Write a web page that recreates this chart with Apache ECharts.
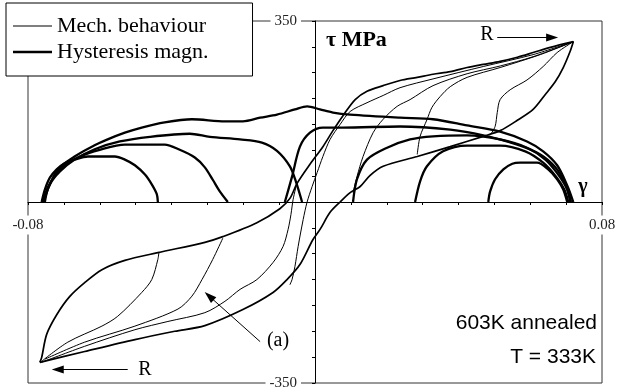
<!DOCTYPE html>
<html><head><meta charset="utf-8">
<script src="https://cdn.jsdelivr.net/npm/echarts@6/dist/echarts.min.js"></script>
<style>html,body{margin:0;padding:0;background:#fff}#c{width:618px;height:389px}</style>
</head><body><div id="c"></div>
<script>
// ---- axis settings ----
const xRange = [-0.08, 0.08];
const yRange = [-350, 350];
const xLabels = [-0.08, 0.08];
const yLabels = [-350, 350];

// ---- Mech. behaviour (thin) : major loop branches ----
const mechUpper = [[0.0720,310],[0.0656,299],[0.0608,289],[0.0564,280],[0.0516,272],[0.0469,266],[0.0424,260],[0.0377,252],[0.0329,247],[0.0285,241],[0.0237,235],[0.0190,225],[0.0145,214],[0.0112,198],[0.0078,167],[0.0050,138],[0.0022,107],[-0.0014,73],[-0.0050,36],[-0.0070,7],[-0.0098,-13],[-0.0162,-40],[-0.0257,-67],[-0.0307,-78],[-0.0438,-98],[-0.0530,-113],[-0.0594,-131],[-0.0642,-156],[-0.0684,-183],[-0.0720,-218],[-0.0748,-256],[-0.0762,-301],[-0.0767,-310]];
const mechLower = [[-0.0767,-310],[-0.0642,-289],[-0.0502,-266],[-0.0391,-250],[-0.0307,-239],[-0.0201,-208],[-0.0117,-175],[-0.0078,-150],[-0.0042,-121],[-0.0006,-73],[0.0014,-53],[0.0042,-20],[0.0070,0],[0.0098,18],[0.0126,30],[0.0153,51],[0.0190,69],[0.0285,88],[0.0377,107],[0.0469,127],[0.0516,138],[0.0564,158],[0.0608,179],[0.0642,208],[0.0670,233],[0.0692,260],[0.0711,291],[0.0720,310]];
// minor loops from the upper reversal point R
const mechMinorR1 = [[0.0720,310],[0.0675,289],[0.0636,262],[0.0591,236],[0.0544,217],[0.0516,198],[0.0508,173],[0.0502,146],[0.0488,129]];
const mechMinorR2 = [[0.0720,310],[0.0628,285],[0.0516,260],[0.0424,241],[0.0377,223],[0.0349,204],[0.0326,183],[0.0312,159],[0.0293,127],[0.0285,92]];
const mechMinorR3 = [[0.0720,310],[0.0608,281],[0.0516,263],[0.0424,248],[0.0329,225],[0.0265,198],[0.0229,185],[0.0190,160],[0.0162,134],[0.0134,88],[0.0117,49],[0.0106,18]];
const mechMinorR4 = [[0.0720,310],[0.0608,285],[0.0469,262],[0.0329,238],[0.0237,221],[0.0190,206],[0.0145,192],[0.0098,175],[0.0070,150],[0.0042,121],[0.0022,88],[0.0006,57],[-0.0008,30],[-0.0022,0],[-0.0033,-34],[-0.0047,-86],[-0.0056,-125],[-0.0064,-150],[-0.0070,-160]];
// minor loops from the lower reversal point R
const mechMinorL1 = [[-0.0762,-308],[-0.0689,-271],[-0.0594,-240],[-0.0550,-221],[-0.0483,-175],[-0.0455,-150],[-0.0438,-111],[-0.0435,-97]];
const mechMinorL2 = [[-0.0753,-304],[-0.0642,-271],[-0.0502,-240],[-0.0382,-207],[-0.0343,-182],[-0.0315,-150],[-0.0285,-111],[-0.0257,-70]];
const mechMinorL3 = [[-0.0762,-310],[-0.0642,-279],[-0.0502,-247],[-0.0410,-231],[-0.0307,-214],[-0.0251,-192],[-0.0209,-169],[-0.0162,-150],[-0.0117,-117],[-0.0089,-86],[-0.0075,-53],[-0.0067,-24],[-0.0061,5],[-0.0050,38]];

// ---- Hysteresis magn. (thick) ----
const magnA = [[-0.0762,0],[-0.0753,24],[-0.0739,47],[-0.0720,63],[-0.0698,75],[-0.0670,82],[-0.0633,88],[-0.0558,88],[-0.0530,82],[-0.0502,71],[-0.0474,53],[-0.0455,34],[-0.0441,15],[-0.0438,0]];
const magnB = [[-0.0759,0],[-0.0745,28],[-0.0725,51],[-0.0698,71],[-0.0656,88],[-0.0600,101],[-0.0530,111],[-0.0419,111],[-0.0377,101],[-0.0335,86],[-0.0307,67],[-0.0285,43],[-0.0265,20],[-0.0243,0]];
const magnC = [[-0.0756,0],[-0.0739,34],[-0.0711,59],[-0.0670,82],[-0.0614,102],[-0.0544,117],[-0.0460,126],[-0.0349,132],[-0.0293,126],[-0.0209,121],[-0.0148,115],[-0.0106,99],[-0.0070,69],[-0.0053,39],[-0.0036,0]];
const magnD = [[-0.0753,0],[-0.0745,24],[-0.0717,63],[-0.0670,88],[-0.0622,107],[-0.0578,121],[-0.0530,134],[-0.0483,144],[-0.0419,154],[-0.0343,160],[-0.0251,156],[-0.0201,156],[-0.0153,163],[-0.0106,169],[-0.0056,179],[-0.0022,185],[0.0014,179],[0.0050,173],[0.0098,169],[0.0237,163],[0.0329,160],[0.0424,148],[0.0516,136],[0.0591,117],[0.0636,98],[0.0675,71],[0.0703,32],[0.0720,0]];
const magnG = [[-0.0084,0],[-0.0064,49],[-0.0042,107],[-0.0014,134],[0.0022,144],[0.0078,144],[0.0237,146],[0.0377,140],[0.0469,129],[0.0564,111],[0.0628,92],[0.0670,67],[0.0698,34],[0.0714,0]];
const magnH = [[0.0106,0],[0.0117,44],[0.0145,82],[0.0201,105],[0.0265,121],[0.0329,127],[0.0424,129],[0.0516,121],[0.0591,105],[0.0642,82],[0.0678,53],[0.0703,24],[0.0711,0]];
const magnF = [[0.0279,0],[0.0293,40],[0.0312,69],[0.0357,98],[0.0424,109],[0.0516,109],[0.0586,98],[0.0636,76],[0.0672,49],[0.0695,24],[0.0706,0]];
const magnE = [[0.0483,0],[0.0488,20],[0.0502,44],[0.0525,63],[0.0550,74],[0.0572,76],[0.0619,76],[0.0650,63],[0.0675,44],[0.0692,24],[0.0703,0]];

// ---- annotation arrows (data coordinates: start, end) ----
const arrowRtop = [[0.0508,318],[0.0661,318]];
const arrowRbottom = [[-0.0522,-324],[-0.0717,-324]];
const arrowA = [[-0.0153,-270],[-0.0295,-182]];

const chart = echarts.init(document.getElementById('c'), null, {renderer: 'canvas'});

function thin(data, w) {
  return {type:'line', name:'Mech. behaviour', data:data, symbol:'none', showSymbol:false,
    smooth:0.3, silent:true, color:'#000', itemStyle:{color:'#000'},
    lineStyle:{color:'#000', width:w || 1}, z:3};
}
function thick(data) {
  return {type:'line', name:'Hysteresis magn.', data:data, symbol:'none', showSymbol:false,
    smooth:0.3, silent:true, color:'#000', itemStyle:{color:'#000'},
    lineStyle:{color:'#000', width:2.3}, z:3};
}

const first = thin(mechMinorR1, 1);
first.markLine = {
  silent:true, animation:false, symbol:['none','triangle'], symbolSize:[8,12],
  label:{show:false}, lineStyle:{color:'#000', width:1, type:'solid'},
  emphasis:{disabled:true},
  data:[arrowRtop, arrowRbottom, arrowA].map(a => [{coord:a[0]},{coord:a[1]}])
};

const series = [
  first,
  thin(mechMinorR2, 1), thin(mechMinorR3, 1), thin(mechMinorR4, 1),
  thin(mechMinorL1, 1), thin(mechMinorL2, 1), thin(mechMinorL3, 1),
  thin(mechUpper, 1.7), thin(mechLower, 1.7),
  thick(magnA), thick(magnB), thick(magnC), thick(magnD),
  thick(magnG), thick(magnH), thick(magnF), thick(magnE)
];

const txt = (text, x, y, font, align, extra) => ({type:'text', x:x, y:y, z:10, silent:true,
  style:Object.assign({text:text, font:font, fill:'#000', textAlign:align || 'center', align:align || 'center',
    textVerticalAlign:'middle', verticalAlign:'middle'}, extra || {})});

chart.setOption({
  animation:false,
  backgroundColor:'#fff',
  grid:{left:28, right:16, top:21, bottom:6, show:true, borderColor:'#333', borderWidth:1,
    backgroundColor:'transparent', containLabel:false, outerBoundsMode:'none'},
  legend:{
    data:[
      {name:'Mech. behaviour', icon:'path://M0,0H39V1.2H0Z'},
      {name:'Hysteresis magn.', icon:'path://M0,0H39V2.4H0Z'}
    ],
    orient:'vertical', left:6, top:3, symbolKeepAspect:true,
    padding:[11,44,12,7], itemGap:2, itemWidth:39, itemHeight:12,
    backgroundColor:'#fff', borderColor:'#000', borderWidth:1, borderRadius:0,
    itemStyle:{color:'#000'},
    textStyle:{fontFamily:'Liberation Serif', fontSize:22, color:'#000', lineHeight:24},
    selectedMode:false, z:20
  },
  xAxis:{type:'value', min:xRange[0], max:xRange[1], interval:0.01,
    axisLine:{show:true, onZero:true, lineStyle:{color:'#000', width:1}},
    axisTick:{show:true, inside:false, length:3, lineStyle:{color:'#000'}},
    splitLine:{show:false}, axisLabel:{show:false}},
  yAxis:{type:'value', min:yRange[0], max:yRange[1], interval:50,
    axisLine:{show:true, onZero:true, lineStyle:{color:'#000', width:1}},
    axisTick:{show:true, inside:false, length:3, lineStyle:{color:'#000'}},
    splitLine:{show:false}, axisLabel:{show:false}},
  series:series
});

// tick labels placed through the axes' own scales (only the end values are labelled)
const tickFont = '15px "Liberation Serif"';
const labelBox = {backgroundColor:'#fff', padding:[2,4], fill:'#222'};
const graphics = [];
xLabels.forEach(v => {
  const p = chart.convertToPixel({gridIndex:0}, [v, 0]);
  graphics.push(txt(v.toFixed(2), p[0], p[1] + 23, tickFont, 'center', labelBox));
});
yLabels.forEach(v => {
  const p = chart.convertToPixel({gridIndex:0}, [0, v]);
  graphics.push(txt(String(v), p[0] - 14, p[1], tickFont, 'right', labelBox));
});
graphics.push(
  txt('τ MPa', 326, 40, 'bold 22px "Liberation Serif"', 'left'),
  txt('γ', 583, 187, 'bold 20px "Liberation Serif"'),
  txt('R', 487, 35, '20px "Liberation Serif"'),
  txt('R', 145, 370, '20px "Liberation Serif"'),
  txt('(a)', 278, 341, '20px "Liberation Serif"'),
  txt('603K annealed', 597, 323, '21px "Liberation Sans"', 'right'),
  txt('T = 333K', 596, 357, '21px "Liberation Sans"', 'right')
);
chart.setOption({graphic:graphics});
</script></body></html>
